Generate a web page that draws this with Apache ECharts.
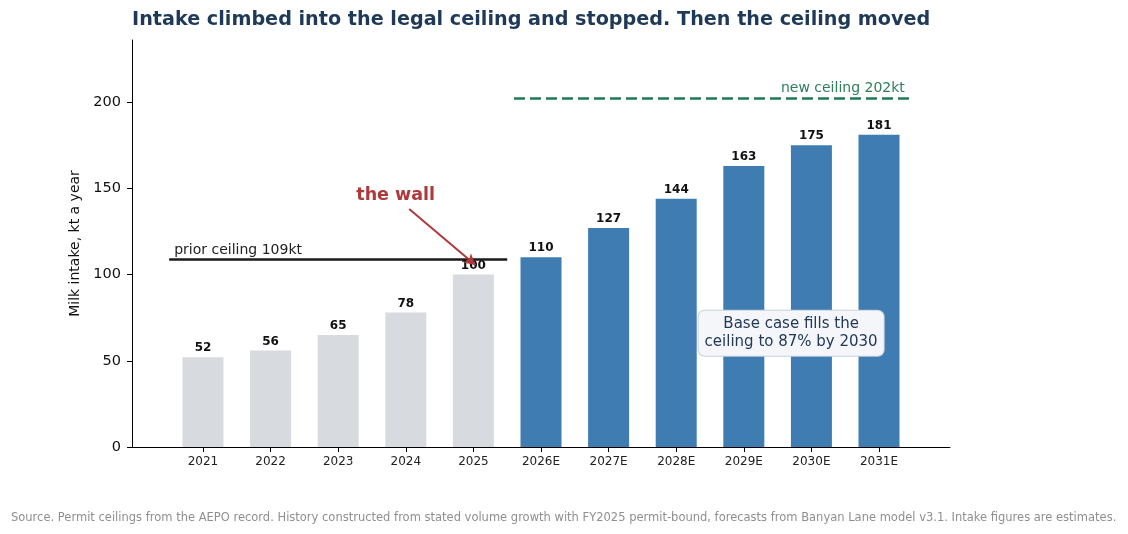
<!DOCTYPE html>
<html>
<head>
<meta charset="utf-8">
<script src="https://cdn.jsdelivr.net/npm/echarts@6/dist/echarts.min.js"></script>
<style>
  html, body { margin: 0; padding: 0; background: #fff; }
  #chart { width: 1128px; height: 534px; }
</style>
</head>
<body>
<div id="chart"></div>
<script>
var years = ['2021', '2022', '2023', '2024', '2025', '2026E', '2027E', '2028E', '2029E', '2030E', '2031E'];
var intake = [52, 56, 65, 78, 100, 110, 127, 144, 163, 175, 181];
var forecastFrom = 5;
var priorCeiling = 109;
var newCeiling = 202;
var yTicks = [0, 50, 100, 150, 200];

var FONT = 'DejaVu Sans';
var idx = years.map(function (y, i) { return i; });

var barData = intake.map(function (v, i) {
  return {
    value: [i, v],
    itemStyle: { color: i < forecastFrom ? '#d7dadf' : '#3e7cb2' }
  };
});

var option = {
  animation: false,
  textStyle: { fontFamily: FONT },
  title: {
    text: 'Intake climbed into the legal ceiling and stopped. Then the ceiling moved',
    left: 132,
    top: 11,
    padding: 0,
    textStyle: { fontFamily: FONT, fontSize: 19.2, fontWeight: 'bold', color: '#1f3a58' }
  },
  graphic: [{
    type: 'text',
    left: 11,
    top: 512,
    style: {
      text: 'Source. Permit ceilings from the AEPO record. History constructed from stated volume growth with FY2025 permit-bound, forecasts from Banyan Lane model v3.1. Intake figures are estimates.',
      font: '11.5px "DejaVu Sans"',
      fill: '#8f8f8f'
    }
  }],
  grid: { left: 132, right: 178, top: 40, bottom: 87 },
  xAxis: {
    type: 'value',
    min: -1.05,
    max: 11.05,
    splitLine: { show: false },
    axisLine: { onZero: false, lineStyle: { color: '#000', width: 1 } },
    axisTick: { customValues: idx, length: 5, lineStyle: { color: '#000' } },
    axisLabel: {
      customValues: idx,
      formatter: function (v) { return years[Math.round(v)]; },
      color: '#222', fontSize: 12, margin: 9, fontFamily: FONT
    }
  },
  yAxis: {
    type: 'value',
    min: 0,
    max: 236,
    name: 'Milk intake, kt a year',
    nameLocation: 'middle',
    nameGap: 47,
    nameTextStyle: { fontSize: 14, color: '#111', fontFamily: FONT },
    splitLine: { show: false },
    axisLine: { show: true, onZero: false, lineStyle: { color: '#000', width: 1 } },
    axisTick: { show: true, customValues: yTicks, length: 5, lineStyle: { color: '#000' } },
    axisLabel: { customValues: yTicks, color: '#111', fontSize: 14.5, margin: 11, fontFamily: FONT }
  },
  series: [{
    type: 'bar',
    barWidth: 41,
    data: barData,
    label: {
      show: true,
      position: 'top',
      distance: 3,
      formatter: function (p) { return p.value[1]; },
      fontSize: 12,
      fontWeight: 'bold',
      color: '#111',
      fontFamily: FONT
    },
    markLine: {
      silent: true,
      symbol: 'none',
      data: [
        [
          { coord: [-0.5, priorCeiling], lineStyle: { color: '#1a1a1a', width: 2.5, type: 'solid' },
            label: { show: true, position: 'insideStartTop', formatter: 'prior ceiling ' + priorCeiling + 'kt',
              color: '#222', fontSize: 14, distance: [5, 2], fontFamily: FONT } },
          { coord: [4.5, priorCeiling] }
        ],
        [
          { coord: [4.6, newCeiling], lineStyle: { color: '#217a50', width: 2.5, type: [11, 5] },
            label: { show: true, position: 'insideEndTop', formatter: 'new ceiling ' + newCeiling + 'kt',
              color: '#2e7d5b', fontSize: 14, distance: [8, 3], fontFamily: FONT } },
          { coord: [10.5, newCeiling] }
        ],
        [
          { coord: [3.05, 138], symbol: 'none', lineStyle: { color: '#b0373a', width: 2, type: 'solid' },
            label: { show: false } },
          { coord: [4.03, 105.5], symbol: 'arrow', symbolSize: [9, 11] }
        ]
      ]
    },
    markPoint: {
      silent: true,
      symbol: 'circle',
      symbolSize: 0,
      data: [
        { coord: [2.85, 146], label: { show: true, position: 'inside', formatter: 'the wall',
            color: '#b0373a', fontSize: 17.5, fontWeight: 'bold', fontFamily: FONT } },
        { coord: [8.7, 66], label: { show: true, position: 'inside',
            formatter: 'Base case fills the\nceiling to 87% by 2030',
            color: '#22395a', fontSize: 15, lineHeight: 18, align: 'center', fontFamily: FONT,
            backgroundColor: '#f4f6f9', borderColor: '#c8d0dc', borderWidth: 1, borderRadius: 6,
            padding: [5, 6, 4, 6] } }
      ]
    }
  }]
};

var chart = echarts.init(document.getElementById('chart'));
chart.setOption(option);
window.addEventListener('resize', function () {
  chart.resize();
});
</script>
</body>
</html>
